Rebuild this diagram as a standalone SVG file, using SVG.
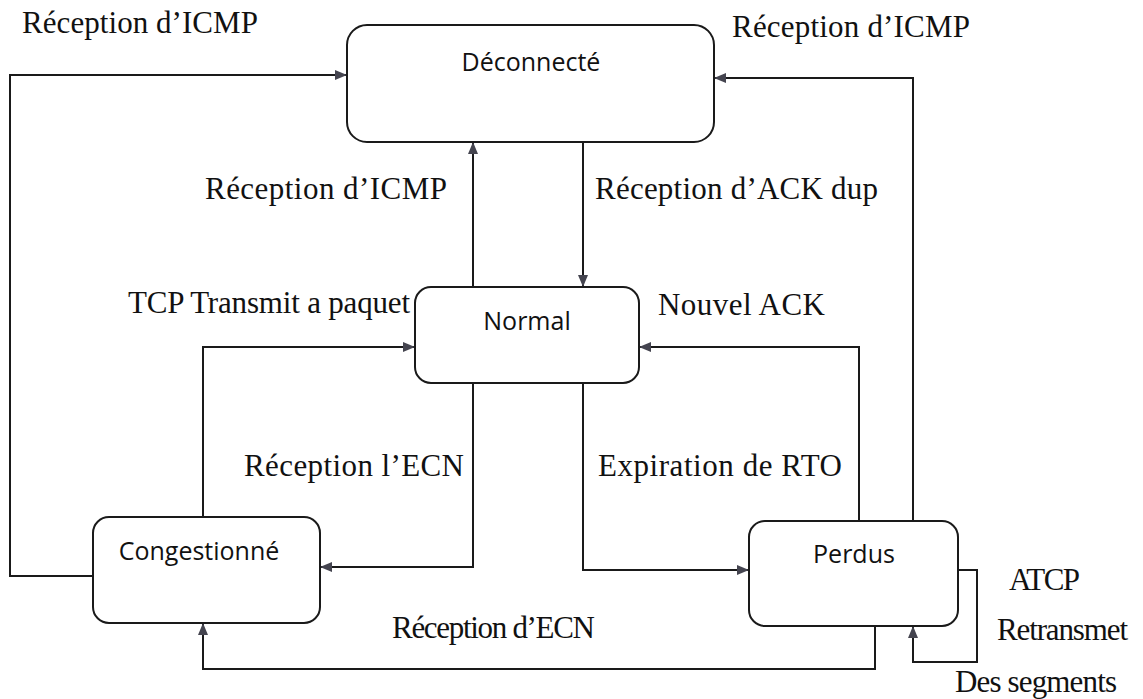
<svg xmlns="http://www.w3.org/2000/svg" width="1143" height="699" viewBox="0 0 1143 699">
  <style>
    .box { fill: #ffffff; stroke: #1a1a1a; stroke-width: 2; }
    .node-label { font-family: "Open Sans", "Noto Sans", "Liberation Sans", sans-serif; font-size: 25px; fill: #111; text-anchor: middle; }
    .edge { fill: none; stroke: #1a1a1a; stroke-width: 2; marker-end: url(#arrow); }
    .edge-label { font-family: "Liberation Serif", "Times New Roman", serif; font-size: 31px; fill: #111; }
  </style>
  <defs>
    <marker id="arrow" viewBox="0 0 12 12" refX="12" refY="6" markerWidth="12" markerHeight="12" markerUnits="userSpaceOnUse" orient="auto">
      <path d="M0,1 L12,6 L0,11 Z" fill="#44444f"/>
    </marker>
  </defs>
  <rect width="1143" height="699" fill="#ffffff"/>

  <g id="connectors">
    <!-- Congestionné -> Déconnecté (left loop) -->
    <path class="edge" d="M93,576 H10 V75 H347"/>
    <!-- Perdus -> Déconnecté (right loop) -->
    <path class="edge" d="M913,521 V78 H714"/>
    <!-- Normal -> Déconnecté -->
    <path class="edge" d="M473,287 V142"/>
    <!-- Déconnecté -> Normal -->
    <path class="edge" d="M583,142 V287"/>
    <!-- Congestionné -> Normal -->
    <path class="edge" d="M203,517 V347 H415"/>
    <!-- Perdus -> Normal -->
    <path class="edge" d="M859,521 V347 H639"/>
    <!-- Normal -> Congestionné -->
    <path class="edge" d="M473,383 V567 H320"/>
    <!-- Normal -> Perdus -->
    <path class="edge" d="M583,383 V570 H749"/>
    <!-- Perdus -> Congestionné (bottom) -->
    <path class="edge" d="M875,622 V669 H203 V623"/>
    <!-- Perdus self loop -->
    <path class="edge" d="M958,570 H977 V662 H913 V626"/>
  </g>

  <g id="node-deconnecte">
    <rect class="box" x="347" y="25" width="367" height="117" rx="20"/>
    <text class="node-label" x="531" y="71">Déconnecté</text>
  </g>
  <g id="node-normal">
    <rect class="box" x="415" y="287" width="224" height="96" rx="16"/>
    <text class="node-label" x="527" y="330">Normal</text>
  </g>
  <g id="node-congestionne">
    <rect class="box" x="93" y="517" width="227" height="106" rx="16"/>
    <text class="node-label" x="199" y="560">Congestionné</text>
  </g>
  <g id="node-perdus">
    <rect class="box" x="749" y="521" width="209" height="105" rx="16"/>
    <text class="node-label" x="854" y="563">Perdus</text>
  </g>

  <g id="labels">
    <text class="edge-label" x="22" y="33" textLength="236">Réception d’ICMP</text>
    <text class="edge-label" x="732" y="37" textLength="238">Réception d’ICMP</text>
    <text class="edge-label" x="205" y="199" textLength="242">Réception d’ICMP</text>
    <text class="edge-label" x="595" y="199" textLength="283">Réception d’ACK dup</text>
    <text class="edge-label" x="128" y="313" textLength="282">TCP Transmit a paquet</text>
    <text class="edge-label" x="658" y="315" textLength="167">Nouvel ACK</text>
    <text class="edge-label" x="244" y="476" textLength="220">Réception l’ECN</text>
    <text class="edge-label" x="598" y="476" textLength="244">Expiration de RTO</text>
    <text class="edge-label" x="392" y="638" textLength="203">Réception d’ECN</text>
    <text class="edge-label" x="1009" y="590" textLength="71">ATCP</text>
    <text class="edge-label" x="997" y="640" textLength="131">Retransmet</text>
    <text class="edge-label" x="955" y="692" textLength="162">Des segments</text>
  </g>
</svg>
